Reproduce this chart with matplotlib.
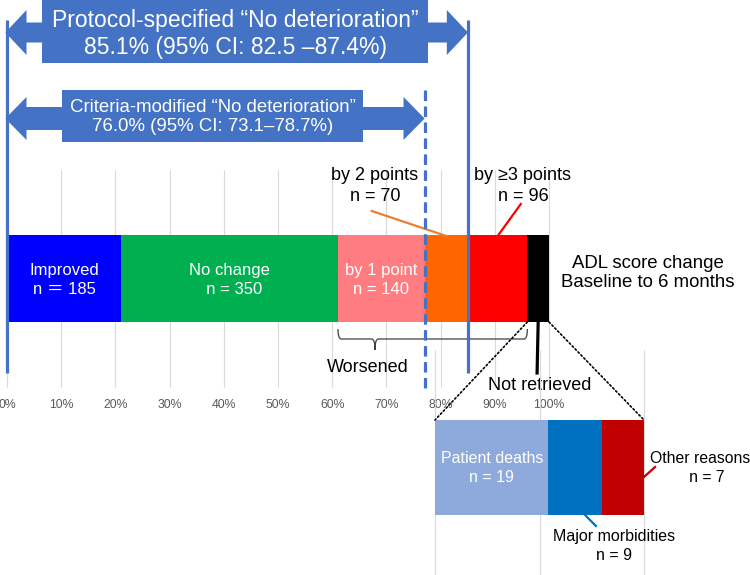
import numpy as np
import matplotlib.pyplot as plt
from matplotlib.patches import Polygon, Rectangle, ConnectionPatch, PathPatch
from matplotlib.path import Path

plt.rcParams['font.family'] = ['Liberation Sans', 'DejaVu Sans', 'Noto Sans CJK JP']

# ADL score change, baseline to 6 months
categories = ['Improved', 'No change', 'by 1 point', 'by 2 points', 'by \u22653 points', 'Not retrieved']
counts = [185, 350, 140, 70, 96, 35]
colors = ['#0000FF', '#00B050', '#FF7C80', '#FF6600', '#FF0000', '#000000']

# breakdown of the not retrieved patients
missing_reasons = ['Patient deaths', 'Major morbidities', 'Other reasons']
missing_counts = [19, 9, 7]
missing_colors = ['#8EA9DB', '#0070C0', '#C00000']

protocol_label = 'Protocol-specified \u201cNo deterioration\u201d\n85.1% (95% CI: 82.5 \u201387.4%)'
modified_label = 'Criteria-modified \u201cNo deterioration\u201d\n76.0% (95% CI: 73.1\u201378.7%)'
tick_values = list(range(0, 101, 10))
tick_labels = [f'{t}%' for t in tick_values]

BLUE = '#4472C4'
W, H = 750, 575

pct = np.array(counts) / sum(counts) * 100
left = np.cumsum(pct) - pct
right = left + pct

fig = plt.figure(figsize=(W / 100, H / 100), dpi=100)
# main axes: x in percent, y in pixel rows (0 at top)
ax = fig.add_axes([7 / W, 1 - 387 / H, 542 / W, 387 / H])
ax.set_xlim(0, 100)
ax.set_ylim(387, 0)
for s in ax.spines.values():
    s.set_visible(False)
ax.set_yticks([])
ax.set_xticks(tick_values)
ax.set_xticklabels(tick_labels)
ax.tick_params(axis='x', length=0, pad=9, labelsize=8.8, labelcolor='#595959')
ax.vlines(tick_values, 170, 387, color='#D9D9D9', lw=0.8, zorder=0, clip_on=False)

ax.barh(278.5, pct, left=left, height=87, color=colors, zorder=2)

white_labels = ['Improved\nn \uff1d 185', 'No change\n  n = 350', 'by 1 point\nn = 140']
for i, lab in enumerate(white_labels):
    ax.text(left[i] + pct[i] / 2, 280, lab, color='white', fontsize=12,
            ha='center', va='center', linespacing=1.3, zorder=3)

# reference lines at the "no deterioration" cut-offs
ax.vlines([0, right[3]], 20, 373, color=BLUE, lw=2.3, zorder=4, clip_on=False)
ax.vlines(right[2], 90, 388, color=BLUE, lw=2.3, linestyles=(0, (3.3, 1.7)),
          zorder=4, clip_on=False)


def double_arrow(x0, x1, yc, shaft, head, head_len):
    pts = [(x0, yc), (x0 + head_len, yc - head), (x0 + head_len, yc - shaft),
           (x1 - head_len, yc - shaft), (x1 - head_len, yc - head), (x1, yc),
           (x1 - head_len, yc + head), (x1 - head_len, yc + shaft),
           (x0 + head_len, yc + shaft), (x0 + head_len, yc + head)]
    ax.add_patch(Polygon(pts, closed=True, color=BLUE, lw=0, zorder=5, clip_on=False))


double_arrow(-0.3, right[3], 32.5, 10, 22.5, 3.9)
ax.add_patch(Rectangle((6.46, 0), 71.2, 63, color=BLUE, lw=0, zorder=5, clip_on=False))
ax.text(42.1, 34, protocol_label, color='white', fontsize=16.5, ha='center', va='center',
        linespacing=1.22, zorder=6)

double_arrow(-0.3, right[2], 118.5, 11.5, 21.5, 3.9)
ax.add_patch(Rectangle((10.15, 90), 55.5, 52, color=BLUE, lw=0, zorder=5, clip_on=False))
ax.text(37.9, 117, modified_label, color='white', fontsize=13.4, ha='center', va='center',
        linespacing=1.22, zorder=6)

# callouts for the small segments
ax.text(67.9, 186, f'by 2 points\nn = {counts[3]}', fontsize=13, ha='center', va='center',
        linespacing=1.25)
ax.plot([67.3, left[3] + pct[3] / 2], [211, 236], color='#ED7D31', lw=1.6, zorder=3)
ax.text(95.2, 186, f'{categories[4]}\nn = {counts[4]}', fontsize=13, ha='center', va='center',
        linespacing=1.25)
ax.plot([94.8, left[4] + pct[4] / 2], [204, 236], color='#FF0000', lw=1.6, zorder=3)

ax.text(118.3, 273, 'ADL score change\nBaseline to 6 months', fontsize=13.4,
        ha='center', va='center', linespacing=1.15, clip_on=False)

# brace under the worsened segments
b0, b1, bt = left[2], right[4], 67.9
verts = [(b0, 329), (b0, 339), (b0 + 0.6, 339), (bt - 0.6, 339), (bt, 339), (bt, 350),
         (bt, 339), (bt + 0.6, 339), (b1 - 0.6, 339), (b1, 339), (b1, 329)]
codes = [Path.MOVETO, Path.CURVE3, Path.CURVE3, Path.LINETO, Path.CURVE3, Path.CURVE3,
         Path.CURVE3, Path.CURVE3, Path.LINETO, Path.CURVE3, Path.CURVE3]
ax.add_patch(PathPatch(Path(verts, codes), fc='none', ec='#404040', lw=0.9, zorder=3))
ax.text(66.6, 367, 'Worsened', fontsize=13, ha='center', va='center')

ax.plot([left[5] + pct[5] / 2, left[5] + pct[5] / 2 - 0.2], [322, 373], color='black',
        lw=2.3, zorder=3)
ax.text(98.3, 385, categories[5], fontsize=13, ha='center', va='center', zorder=6)

# inset: reasons for not retrieved
ax2 = fig.add_axes([435 / W, 0, 209 / W, (H - 350) / H])
ax2.set_facecolor('none')
ax2.set_xlim(0, 100)
ax2.set_ylim(575, 350)
ax2.axis('off')
ax2.vlines([0, 50, 100], 350, 575, color='#D9D9D9', lw=0.8, zorder=0, clip_on=False)
mpct = np.array(missing_counts) / sum(missing_counts) * 100
mleft = np.cumsum(mpct) - mpct
ax2.barh(467.5, mpct, left=mleft, height=95, color=missing_colors, zorder=2)
ax2.text(mleft[0] + mpct[0] / 2, 468, f'{missing_reasons[0]}\nn = {missing_counts[0]}',
         color='white', fontsize=11.5, ha='center', va='center', linespacing=1.3, zorder=3)
ax2.text(85.6, 546, f'{missing_reasons[1]}\nn = {missing_counts[1]}', fontsize=11.5,
         ha='center', va='center', linespacing=1.3, clip_on=False)
ax2.plot([71.8, 77.0], [515, 526], color=missing_colors[1], lw=1.6, clip_on=False)
ax2.text(127.0, 468, f'{missing_reasons[2]}\n   n = {missing_counts[2]}', fontsize=11.3,
         ha='center', va='center', linespacing=1.3, clip_on=False)
ax2.plot([100, 105.3], [477, 467], color=missing_colors[2], lw=1.6, clip_on=False)

for xa, xb in [(left[5], 0), (100, 100)]:
    fig.add_artist(ConnectionPatch((xa, 322), (xb, 420), coordsA=ax.transData,
                                   coordsB=ax2.transData, color='black', lw=1.2,
                                   linestyle=(0, (1, 1.5))))

fig.savefig('out.png', dpi=100)
